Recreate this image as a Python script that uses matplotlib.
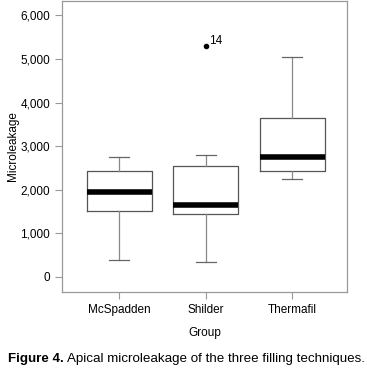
import matplotlib.pyplot as plt

# Box plot summary values
groups = ["McSpadden", "Shilder", "Thermafil"]
whisker_low = [390, 330, 2235]
q1 = [1500, 1435, 2425]
median = [1935, 1640, 2745]
q3 = [2415, 2530, 3645]
whisker_high = [2755, 2785, 5045]
outliers = [[], [5300], []]
outlier_labels = [[], ["14"], []]

plt.rcParams["font.family"] = ["Liberation Sans", "DejaVu Sans"]

stats = []
for i, g in enumerate(groups):
    stats.append({
        "label": g,
        "whislo": whisker_low[i],
        "q1": q1[i],
        "med": median[i],
        "q3": q3[i],
        "whishi": whisker_high[i],
        "fliers": outliers[i],
    })

fig = plt.figure(figsize=(3.67, 3.69), dpi=100)
ax = fig.add_axes([0.169, 0.21, 0.776, 0.787])

ax.bxp(stats, positions=[1, 2, 3], widths=0.75, capwidths=0.23,
       boxprops=dict(color="#555555", linewidth=0.9),
       whiskerprops=dict(color="#888888", linewidth=0.9),
       capprops=dict(color="#666666", linewidth=0.9),
       medianprops=dict(color="black", linewidth=4, solid_capstyle="butt"),
       flierprops=dict(marker="o", markerfacecolor="black", markeredgecolor="black",
                       markersize=3))

# label outliers
for i, pts in enumerate(outliers):
    for v, lab in zip(pts, outlier_labels[i]):
        ax.annotate(lab, (i + 1, v), xytext=(2.5, -1), textcoords="offset points",
                    fontsize=8.5, va="bottom", ha="left")

ax.set_xlim(0.337, 3.63)
ax.set_ylim(-343, 6330)
ax.set_yticks([0, 1000, 2000, 3000, 4000, 5000, 6000])
ax.set_yticklabels(["0", "1,000", "2,000", "3,000", "4,000", "5,000", "6,000"])
ax.set_xticks([1, 2, 3])
ax.set_xticklabels(groups)

for s in ax.spines.values():
    s.set_color("#999999")
    s.set_linewidth(0.9)
ax.tick_params(colors="#999999", labelcolor="black", labelsize=8.5, length=5, width=0.8)
ax.tick_params(axis="x", pad=4)

ax.set_ylabel("Microleakage", fontsize=8.5, labelpad=1)
ax.set_xlabel("Group", fontsize=8.5, labelpad=8)

# caption: bold lead followed by normal text
cap_y = 0.012
t1 = fig.text(0.022, cap_y, "Figure 4.", fontsize=9.6, fontweight="bold", va="bottom")
fig.canvas.draw()
bb = t1.get_window_extent()
x2 = (bb.x1 + 3) / fig.bbox.width
fig.text(x2, cap_y, "Apical microleakage of the three filling techniques.",
         fontsize=9.6, va="bottom")

fig.savefig("out.png", dpi=100)
